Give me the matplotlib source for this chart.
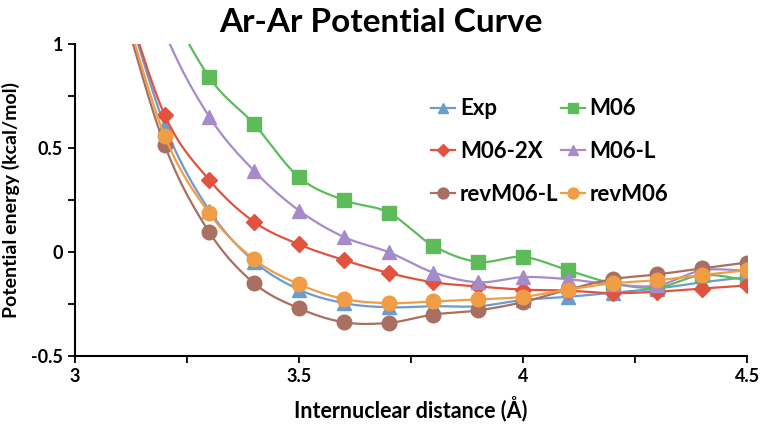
import numpy as np
import matplotlib
matplotlib.use("Agg")
import matplotlib.pyplot as plt
from matplotlib.lines import Line2D
from matplotlib.ticker import MultipleLocator

plt.rcParams['font.family'] = ['Lato', 'DejaVu Sans']
plt.rcParams['font.weight'] = 'bold'

# distance (A); first point lies above the plotted range
r = [3.1, 3.2, 3.3, 3.4, 3.5, 3.6, 3.7, 3.8, 3.9, 4.0, 4.1, 4.2, 4.3, 4.4, 4.5]

exp_e     = [1.30, 0.61, 0.20, -0.045, -0.18, -0.245, -0.265, -0.26, -0.26, -0.23, -0.215, -0.195, -0.175, -0.145, -0.12]
m06       = [1.90, 1.25, 0.84, 0.615, 0.36, 0.25, 0.19, 0.03, -0.047, -0.023, -0.087, -0.15, -0.17, -0.11, -0.135]
m06_2x    = [1.30, 0.66, 0.346, 0.145, 0.037, -0.038, -0.10, -0.145, -0.165, -0.18, -0.185, -0.197, -0.19, -0.175, -0.16]
m06_l     = [1.70, 1.06, 0.65, 0.39, 0.20, 0.073, 0.0, -0.098, -0.145, -0.12, -0.13, -0.155, -0.16, -0.087, -0.09]
revm06_l  = [1.22, 0.515, 0.095, -0.15, -0.27, -0.337, -0.34, -0.30, -0.28, -0.24, -0.18, -0.13, -0.107, -0.078, -0.05]
revm06    = [1.25, 0.56, 0.186, -0.035, -0.154, -0.225, -0.245, -0.237, -0.227, -0.215, -0.18, -0.15, -0.135, -0.11, -0.087]

names = ['Exp', 'M06', 'M06-2X', 'M06-L', 'revM06-L', 'revM06']
colors = ['#6A9BD1', '#5DBB5A', '#E2533F', '#A68BCB', '#A86F62', '#F09D45']
markers = ['^', 's', 'D', '^', 'o', 'o']
msizes = [10, 9.5, 8, 10, 10.5, 10.5]


def smooth(x, y, n=30):
    # excel style smoothing: bezier segments with catmull-rom control points
    x = np.asarray(x, float)
    y = np.asarray(y, float)
    px = np.concatenate([[x[0]], x, [x[-1]]])
    py = np.concatenate([[y[0]], y, [y[-1]]])
    t = np.linspace(0, 1, n)
    xs, ys = [], []
    for i in range(1, len(px) - 2):
        p0 = np.array([px[i], py[i]])
        p3 = np.array([px[i + 1], py[i + 1]])
        c1 = p0 + (p3 - np.array([px[i - 1], py[i - 1]])) / 6
        c2 = p3 - (np.array([px[i + 2], py[i + 2]]) - p0) / 6
        b = ((1 - t) ** 3)[:, None] * p0 + (3 * (1 - t) ** 2 * t)[:, None] * c1 \
            + (3 * (1 - t) * t ** 2)[:, None] * c2 + (t ** 3)[:, None] * p3
        xs.append(b[:, 0])
        ys.append(b[:, 1])
    return np.concatenate(xs), np.concatenate(ys)


fig = plt.figure(figsize=(7.62, 4.24), dpi=100)
ax = fig.add_axes([0.0984, 0.160, 0.882, 0.736])

handles = []
for vals, name, c, m, ms in zip([exp_e, m06, m06_2x, m06_l, revm06_l, revm06],
                                names, colors, markers, msizes):
    sx, sy = smooth(r, vals)
    ax.plot(sx, sy, color=c, lw=1.6)
    ax.plot(r, vals, ls='none', marker=m, ms=ms, color=c, mec=c)
    handles.append(Line2D([], [], color=c, lw=1.6, marker=m, ms=ms * 0.75, mec=c))

ax.set_xlim(3, 4.5)
ax.set_ylim(-0.5, 1)
ax.xaxis.set_minor_locator(MultipleLocator(0.25))
ax.yaxis.set_minor_locator(MultipleLocator(0.25))
ax.set_xticks([3, 3.5, 4, 4.5])
ax.set_xticklabels(['3', '3.5', '4', '4.5'])
ax.set_yticks([-0.5, 0, 0.5, 1])
ax.set_yticklabels(['-0.5', '0', '0.5', '1'])
ax.tick_params(which='both', direction='out', length=5, width=1.3, color='black')
ax.tick_params(labelsize=13)
for s in ['top', 'right']:
    ax.spines[s].set_visible(False)
for s in ['left', 'bottom']:
    ax.spines[s].set_linewidth(1.5)

ax.set_xlabel('Internuclear distance (Å)', fontsize=15.5, fontweight='bold', labelpad=8)
ax.set_ylabel('Potential energy (kcal/mol)', fontsize=14, fontweight='bold', labelpad=8)
fig.text(0.5, 0.948, 'Ar-Ar Potential Curve', fontsize=24, fontweight='bold',
         ha='center', va='center')

order = [0, 2, 4, 1, 3, 5]
ax.legend([handles[i] for i in order], [names[i] for i in order], ncol=2,
          loc='upper left', bbox_to_anchor=(0.50, 0.89), frameon=False,
          prop={'size': 16, 'weight': 'bold'}, handlelength=1.1,
          handletextpad=0.2, columnspacing=0.1, labelspacing=0.98)

fig.savefig('out.png', dpi=100)
